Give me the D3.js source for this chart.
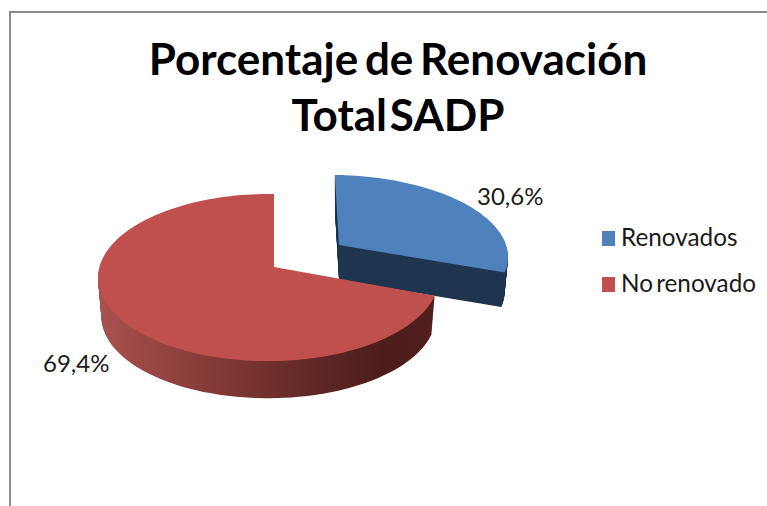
<!DOCTYPE html>
<html>
<head>
<meta charset="utf-8">
<script src="https://cdn.jsdelivr.net/npm/d3@7"></script>
<style>
  html, body { margin: 0; padding: 0; background: #fff; }
  text { font-family: Lato, sans-serif; fill: #1a1a1a; }
</style>
</head>
<body>
<script>
'use strict';

const categories = ['Renovados', 'No renovado']
const values     = [30.6, 69.4]
const labels     = ['30,6%', '69,4%']
const titleLines = ['Porcentaje de Renovación', 'Total SADP']

const BLUE  = '#4f81bd'
const RED   = '#c0504d'
const NAVY  = '#1f3550'
const FRAME = '#8c8c8c'

const width = 767
const height = 506

// perspective of the pie disc
const apexX = 274, apexY = 267
const radX = 169, radY = 82.2
const tiltY = 0.126, tiltX = 0.032

// how the cut-out slice sits relative to the rest of the pie
const exploded = { dx: 65, dy: -22, sx: 1.02, sy: 0.96, shear: 0.057 }
const whole    = { dx: 0, dy: 0, sx: 1, sy: 1, shear: 0 }

const svg = d3.select('body')
  .append('svg')
  .attr('width', width)
  .attr('height', height)
  .style('display', 'block')

const color = d3.scaleOrdinal().domain(categories).range([BLUE, RED])

const pie = d3.pie().sort(null).startAngle(0).endAngle(2 * Math.PI)
const slices = pie(values)

function project(angle, r) {
  const X = r * Math.sin(angle), Y = -r * Math.cos(angle)
  const w = 1 - tiltY * Y + tiltX * X
  return [radX * X / w, radY * Y / w]
}

// outline of one slice, relative to the apex
function outline(slice) {
  const steps = d3.range(0, 121).map(i => slice.startAngle + (slice.endAngle - slice.startAngle) * i / 120)
  return [[0, 0]].concat(steps.map(a => project(a, 1)))
}

function place(points, o, shrink, depth) {
  return points.map(([x, y]) => [
    apexX + o.dx + (x * o.sx + y * o.shear) * shrink,
    apexY + o.dy + y * o.sy * shrink + depth
  ])
}

const line = d3.line().curve(d3.curveLinear)
const closed = pts => line(pts) + 'Z'

const grad = svg.append('defs').append('linearGradient')
  .attr('id', 'redWall')
  .attr('gradientUnits', 'userSpaceOnUse')
  .attr('x1', 98).attr('x2', 436).attr('y1', 0).attr('y2', 0)
grad.selectAll('stop')
  .data([[0, '#a85350'], [0.12, '#9c4945'], [0.4, '#7e3632'], [0.65, '#5f2725'], [0.85, '#4c1d1b'], [1, '#521f1e']])
  .join('stop')
  .attr('offset', d => d[0])
  .attr('stop-color', d => d[1])

// frame of the pasted chart
svg.append('path')
  .attr('d', line([[10, height], [10, 12], [width, 12]]))
  .attr('fill', 'none')
  .attr('stroke', FRAME)
  .attr('stroke-width', 2)

// title
svg.selectAll('text.title')
  .data(titleLines)
  .join('text')
  .attr('class', 'title')
  .attr('x', 398)
  .attr('y', (d, i) => i === 0 ? 75 : 131)
  .attr('text-anchor', 'middle')
  .style('font-size', '44px')
  .style('font-weight', 700)
  .style('word-spacing', (d, i) => i === 0 ? '-4px' : '-8px')
  .style('fill', '#000')
  .text(d => d)

function drawSlice(slice, o, depth, wallFill) {
  const pts = outline(slice)
  const g = svg.append('g')
  g.selectAll('path.wall')
    .data(d3.range(depth, 0, -1))
    .join('path')
    .attr('class', 'wall')
    .attr('d', t => closed(place(pts, o, 1 - 0.02 * t / depth, t)))
    .attr('fill', wallFill)
  g.append('path')
    .attr('d', closed(place(pts, o, 1, 0)))
    .attr('fill', color(categories[slice.index]))
}

drawSlice(slices[0], exploded, 35, NAVY)
drawSlice(slices[1], whole, 39, 'url(#redWall)')

// data labels
svg.selectAll('text.label')
  .data(labels)
  .join('text')
  .attr('class', 'label')
  .attr('x', (d, i) => i === 0 ? 477 : 43)
  .attr('y', (d, i) => i === 0 ? 205 : 372)
  .style('font-size', '24px')
  .text(d => d)

// legend
const legendY = d3.scalePoint().domain(categories).range([246, 292])

svg.selectAll('rect.key')
  .data(categories)
  .join('rect')
  .attr('class', 'key')
  .attr('x', 602)
  .attr('y', d => legendY(d) - 15)
  .attr('width', 13)
  .attr('height', 15)
  .attr('fill', d => color(d))

svg.selectAll('text.legend')
  .data(categories)
  .join('text')
  .attr('class', 'legend')
  .attr('x', 621)
  .attr('y', d => legendY(d))
  .style('font-size', '24.3px')
  .style('word-spacing', '-3px')
  .text(d => d)
</script>
</body>
</html>
